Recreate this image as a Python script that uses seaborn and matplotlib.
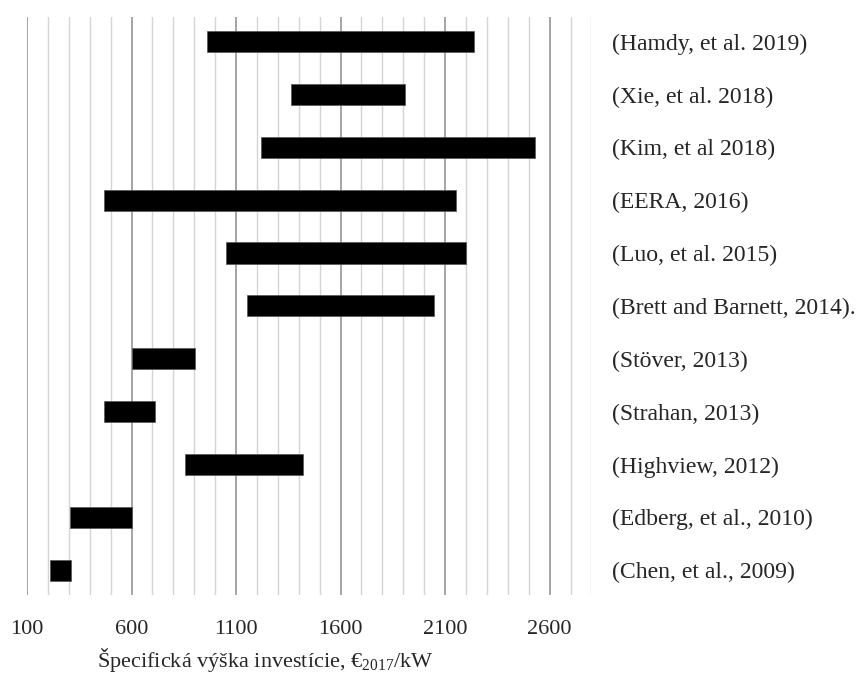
import numpy as np
import pandas as pd
import seaborn as sns
import matplotlib.pyplot as plt
from matplotlib.ticker import MultipleLocator

# data (EUR2017/kW)
studies = ['(Hamdy, et al. 2019)', '(Xie, et al. 2018)', '(Kim, et al 2018)',
           '(EERA, 2016)', '(Luo, et al. 2015)', '(Brett and Barnett, 2014).',
           '(Stöver, 2013)', '(Strahan, 2013)', '(Highview, 2012)',
           '(Edberg, et al., 2010)', '(Chen, et al., 2009)']
low = [960, 1365, 1220, 470, 1050, 1150, 600, 470, 855, 305, 210]
high = [2240, 1910, 2530, 2150, 2200, 2045, 905, 710, 1420, 600, 310]

df = pd.DataFrame({'study': studies, 'low': low, 'high': high})
df['span'] = df['high'] - df['low']

sns.set_style('white')
plt.rcParams['font.family'] = ['Liberation Serif', 'DejaVu Serif']
plt.rcParams['mathtext.fontset'] = 'custom'
plt.rcParams['mathtext.rm'] = 'Liberation Serif'

fig = plt.figure(figsize=(8.63, 6.73), dpi=100)
ax = fig.add_axes([0.0313, 0.116, 0.654, 0.859])

# floating bars: width = span, starting at the low value
sns.barplot(data=df, x='span', y='study', orient='h', color='black',
            errorbar=None, width=0.4, left=df['low'].values,
            edgecolor='#555555', linewidth=0.5, ax=ax, zorder=3)

ax.set_xlim(100, 2800)
ax.set_ylim(10.47, -0.47)
ax.xaxis.set_major_locator(MultipleLocator(500, offset=100))
ax.xaxis.set_minor_locator(MultipleLocator(100))
ax.grid(which='major', axis='x', color='#8c8c8c', linewidth=1.1)
ax.grid(which='minor', axis='x', color='#d4d4d4', linewidth=1.0)
ax.grid(False, axis='y')
ax.set_axisbelow(True)
for s in ax.spines.values():
    s.set_visible(False)

ax.yaxis.tick_right()
ax.tick_params(axis='y', length=0, pad=15, labelsize=17.1)
ax.tick_params(axis='x', which='both', length=0, pad=18, labelsize=16)
for lab in ax.get_yticklabels():
    lab.set_horizontalalignment('left')
ax.set_ylabel('')
ax.set_xlabel('Špecifická výška investície, €$_{2017}$/kW', fontsize=16)
ax.xaxis.set_label_coords(0.422, -0.088)

fig.savefig('out.png', dpi=100)
